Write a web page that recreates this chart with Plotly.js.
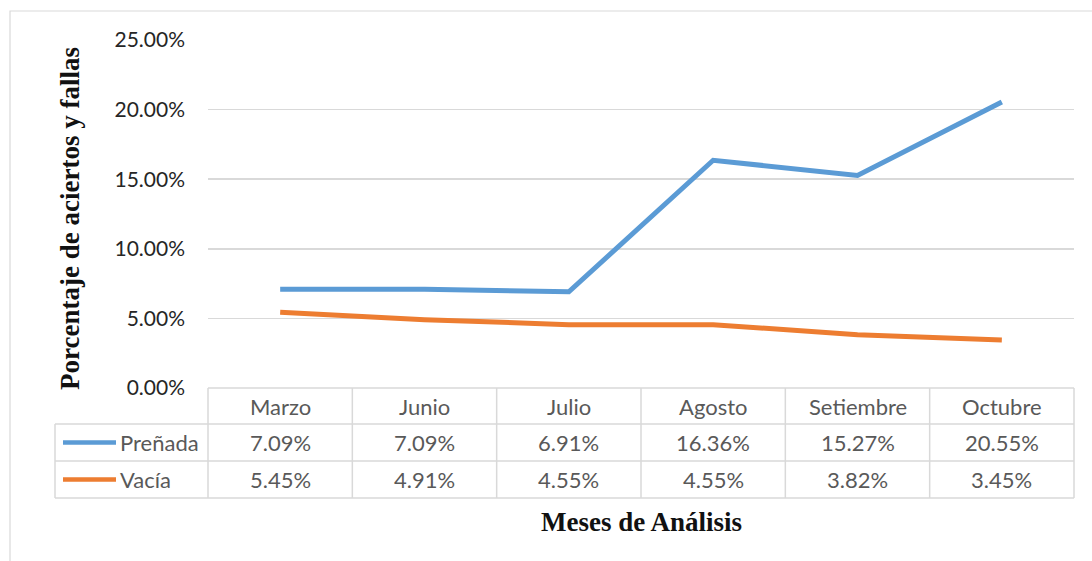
<!DOCTYPE html>
<html>
<head>
<meta charset="utf-8">
<script src="https://cdn.plot.ly/plotly-3.0.1.min.js"></script>
<style>html,body{margin:0;padding:0;background:#fff}#chart{width:1092px;height:561px}</style>
</head>
<body>
<div id="chart"></div>
<script>
const months = ["Marzo", "Junio", "Julio", "Agosto", "Setiembre", "Octubre"];
const prenada = [7.09, 7.09, 6.91, 16.36, 15.27, 20.55];
const vacia = [5.45, 4.91, 4.55, 4.55, 3.82, 3.45];
const seriesNames = ["Preñada", "Vacía"];
const seriesColors = ["#5b9bd5", "#ed7d31"];
const yTicks = [0, 5, 10, 15, 20, 25];

const W = 1092, H = 561;
const mL = 208, mR = 18, mT = 40, mB = 173;
const pw = W - mL - mR, ph = H - mT - mB;
const px = x => (x - mL) / pw;            // pixel x -> paper
const py = y => (H - mB - y) / ph;        // pixel y -> paper

const font = "Lato, Calibri, 'Noto Sans', sans-serif";
const serif = "'Liberation Serif', 'Times New Roman', serif";
const gridC = "#d9d9d9";
const textC = "#595959";

const traces = [prenada, vacia].map((v, i) => ({
  x: months, y: v, type: "scatter", mode: "lines", name: seriesNames[i],
  line: {color: seriesColors[i], width: 5}, hoverinfo: "skip"
}));

const shapes = [];
const annotations = [];
// outer chart border
shapes.push({type: "rect", xref: "paper", yref: "paper", x0: px(10), x1: px(1100), y0: py(570), y1: py(11),
  line: {color: "#d9d9d9", width: 1.2}, fillcolor: "rgba(0,0,0,0)", layer: "below"});

// table rows (pixel y)
const rowY = [388, 424, 461, 498];
const tableLeft = 55;
shapes.push({type: "line", xref: "paper", yref: "paper", x0: 0, x1: 1, y0: py(rowY[0]), y1: py(rowY[0]), line: {color: gridC, width: 1.5}});
for (let r = 1; r < rowY.length; r++) {
  shapes.push({type: "line", xref: "paper", yref: "paper", x0: px(tableLeft), x1: 1, y0: py(rowY[r]), y1: py(rowY[r]), line: {color: gridC, width: 1.5}});
}
for (let c = 0; c <= months.length; c++) {
  shapes.push({type: "line", xref: "paper", yref: "paper", x0: c / months.length, x1: c / months.length,
    y0: py(rowY[3]), y1: py(rowY[0]), line: {color: gridC, width: 1.5}});
}
shapes.push({type: "line", xref: "paper", yref: "paper", x0: px(tableLeft), x1: px(tableLeft),
  y0: py(rowY[3]), y1: py(rowY[1]), line: {color: gridC, width: 1.5}});

const tSize = 22;
months.forEach((m, i) => {
  annotations.push({x: (i + 0.5) / months.length, y: py((rowY[0] + rowY[1]) / 2), xref: "paper", yref: "paper",
    text: m, showarrow: false, font: {family: font, size: tSize, color: textC}, xanchor: "center", yanchor: "middle"});
});
[prenada, vacia].forEach((vals, s) => {
  const yc = py((rowY[s + 1] + rowY[s + 2]) / 2);
  shapes.push({type: "line", xref: "paper", yref: "paper", x0: px(63), x1: px(116), y0: yc, y1: yc,
    line: {color: seriesColors[s], width: 4.5}});
  annotations.push({x: px(118), y: yc, xref: "paper", yref: "paper", text: seriesNames[s], showarrow: false,
    font: {family: font, size: tSize, color: textC}, xanchor: "left", yanchor: "middle"});
  vals.forEach((v, i) => {
    annotations.push({x: (i + 0.5) / months.length, y: yc, xref: "paper", yref: "paper",
      text: v.toFixed(2) + "%", showarrow: false, font: {family: font, size: tSize, color: textC},
      xanchor: "center", yanchor: "middle"});
  });
});
annotations.push({x: px(70), y: py(219), xref: "paper", yref: "paper", text: "<b>Porcentaje de aciertos y fallas</b>",
  textangle: -90, showarrow: false, font: {family: serif, size: 27, color: "#111"}, xanchor: "center", yanchor: "middle"});
annotations.push({x: px(641), y: py(522), xref: "paper", yref: "paper", text: "<b>Meses de Análisis</b>",
  showarrow: false, font: {family: serif, size: 27, color: "#111"}, xanchor: "center", yanchor: "middle"});

const layout = {
  width: W, height: H,
  margin: {l: mL, r: mR, t: mT, b: mB},
  paper_bgcolor: "#fff", plot_bgcolor: "#fff",
  showlegend: false,
  xaxis: {type: "category", range: [-0.5, months.length - 0.5], showticklabels: false, showgrid: false,
    zeroline: false, showline: false, ticks: ""},
  yaxis: {range: [0, 25], tickvals: yTicks, ticktext: yTicks.map(t => t.toFixed(2) + "%"),
    showgrid: true, gridcolor: gridC, gridwidth: 1.5, zeroline: false, showline: false, ticks: "",
    ticklabelstandoff: 22, tickfont: {family: font, size: 21, color: "#262626"}},
  shapes: shapes, annotations: annotations
};

Plotly.newPlot("chart", traces, layout, {staticPlot: true, displayModeBar: false});
</script>
</body>
</html>
